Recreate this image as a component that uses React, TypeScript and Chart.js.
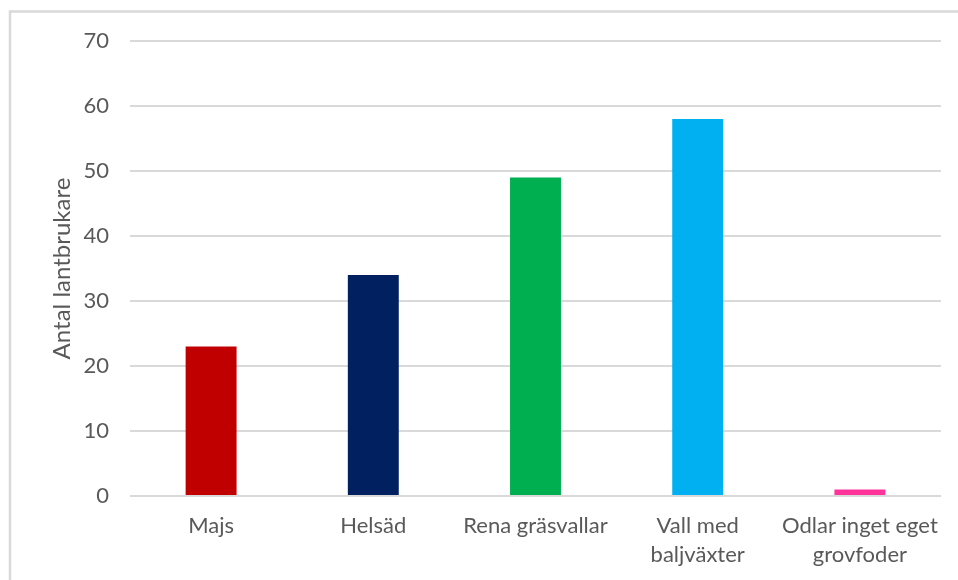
import React, { useEffect, useRef } from "react";
import { Chart, registerables } from "chart.js";

Chart.register(...registerables);

const categories: (string | string[])[] = [
  "Majs",
  "Helsäd",
  "Rena gräsvallar",
  ["Vall med", "baljväxter"],
  ["Odlar inget eget", "grovfoder"],
];
const values = [23, 34, 49, 58, 1];
const barColors = ["#C00000", "#002060", "#00B050", "#00B0F0", "#FF3399"];
const yTitle = "Antal lantbrukare";
const yMin = 0;
const yMax = 70;
const yStep = 10;

const FONT = "Lato, 'Open Sans', sans-serif";
const TEXT = "#595959";
const GRID = "#D9D9D9";

const framePlugin = {
  id: "frame",
  beforeDraw(chart: any) {
    const ctx = chart.ctx;
    ctx.save();
    ctx.fillStyle = "#FFFFFF";
    ctx.fillRect(0, 0, chart.width, chart.height);
    ctx.strokeStyle = GRID;
    ctx.lineWidth = 2.5;
    ctx.beginPath();
    ctx.moveTo(10, chart.height);
    ctx.lineTo(10, 11.5);
    ctx.lineTo(chart.width, 11.5);
    ctx.stroke();
    ctx.restore();
  },
};

export default function App() {
  const ref = useRef<HTMLCanvasElement | null>(null);
  useEffect(() => {
    if (!ref.current) return;
    const chart = new Chart(ref.current, {
      type: "bar",
      data: {
        labels: categories,
        datasets: [
          {
            data: values,
            backgroundColor: barColors,
            borderWidth: 0,
            barPercentage: 0.314,
            categoryPercentage: 1,
          },
        ],
      },
      options: {
        responsive: false,
        animation: false,
        layout: { padding: { left: 40, right: 17, top: 41, bottom: 0 } },
        plugins: { legend: { display: false }, tooltip: { enabled: false } },
        scales: {
          x: {
            grid: { display: false, drawTicks: false },
            border: { display: false },
            ticks: {
              color: TEXT,
              font: { family: FONT, size: 22, lineHeight: 1.3 },
              padding: 16,
              maxRotation: 0,
              autoSkip: false,
            },
            afterFit(scale: any) {
              scale.height = 84;
            },
          },
          y: {
            min: yMin,
            max: yMax,
            grid: { color: GRID, lineWidth: 2, drawTicks: false },
            border: { display: false },
            ticks: {
              stepSize: yStep,
              color: TEXT,
              font: { family: FONT, size: 22 },
              padding: 21,
            },
            title: {
              display: true,
              text: yTitle,
              color: TEXT,
              font: { family: FONT, size: 24 },
              padding: { top: 8, bottom: 0 },
            },
            afterFit(scale: any) {
              scale.width = 90;
            },
          },
        },
      },
      plugins: [framePlugin],
    });
    return () => chart.destroy();
  }, []);
  return (
    <div style={{ position: "absolute", left: 0, top: 0, width: 958, height: 580 }}>
      <canvas ref={ref} width={958} height={580} />
    </div>
  );
}
